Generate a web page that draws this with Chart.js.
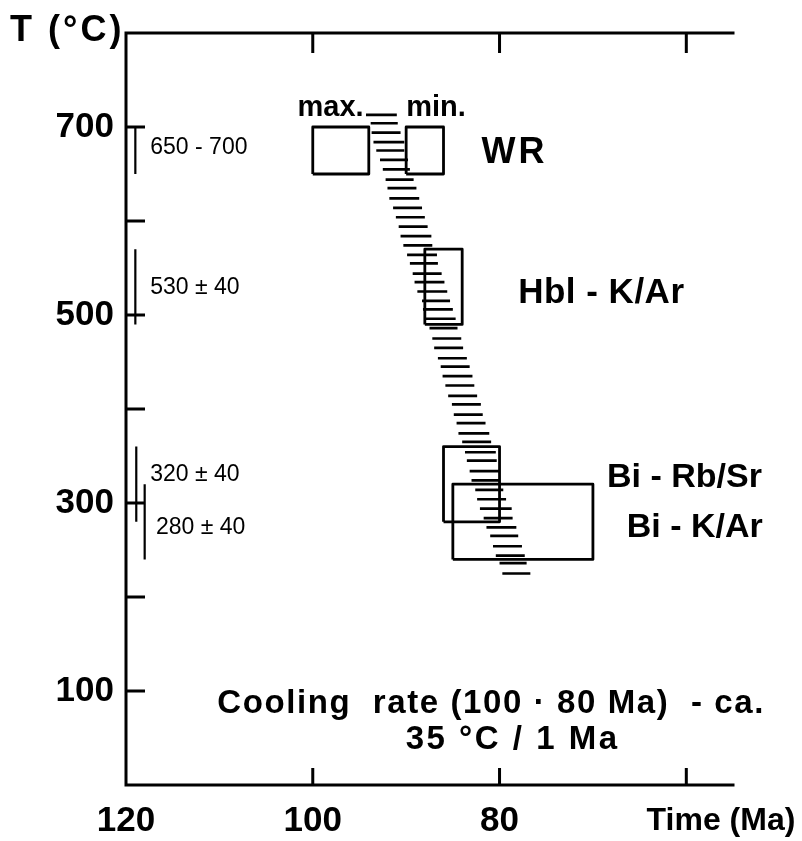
<!DOCTYPE html>
<html>
<head>
<meta charset="utf-8">
<script src="https://cdn.jsdelivr.net/npm/chart.js@4.4.0/dist/chart.umd.min.js"></script>
<style>
  html, body { margin: 0; padding: 0; background: #fff; }
  #chart { display: block; }
</style>
</head>
<body>
<canvas id="chart" width="802" height="841"></canvas>
<script>
// --- 1. Values ---
const timeTicks = [120, 100, 80, 60];
const timeTickLabels = ['120', '100', '80', ''];
const tempTicks = [100, 200, 300, 400, 500, 600, 700];
const tempTickLabels = ['100', '', '300', '', '500', '', '700'];

// age boxes (Ma, °C)
const boxNames = ['WR max.', 'WR min.', 'Hbl - K/Ar', 'Bi - Rb/Sr', 'Bi - K/Ar'];
const boxOld = [100, 90, 88, 86, 85];
const boxYoung = [94, 86, 84, 80, 70];
const boxLow = [650, 650, 490, 280, 240];
const boxHigh = [700, 700, 570, 360, 320];

// closure temperature ranges drawn along the T axis
const rangeLabels = ['650 - 700', '530 ± 40', '320 ± 40', '280 ± 40'];
const rangeTime = [119.0, 119.0, 118.9, 118.0];
const rangeLow = [650, 490, 280, 240];
const rangeHigh = [700, 570, 360, 320];

// hatched cooling path: one short line per row
const hatchTemp = [713, 704, 694, 684, 675, 665, 655, 644, 635, 624,
                   614, 604, 594, 584, 574, 564, 555, 544, 535, 525,
                   515, 506, 496, 486, 475, 465, 454, 445, 435, 425,
                   414, 405, 394, 385, 374, 365, 354, 345, 334, 324,
                   314, 304, 294, 284, 274, 265, 254, 244, 236, 225];
const hatchOld = [94.3, 93.8, 93.7, 93.5, 93.2, 92.8, 92.5, 92.2, 92.0, 91.8,
                  91.4, 91.1, 90.8, 90.6, 90.3, 89.9, 89.6, 89.3, 89.1, 88.8,
                  88.3, 88.2, 87.9, 87.5, 87.2, 87.0, 86.6, 86.3, 86.1, 85.8,
                  85.5, 85.1, 84.9, 84.6, 84.4, 84.0, 83.7, 83.5, 83.2, 83.0,
                  82.6, 82.4, 82.1, 81.7, 81.4, 81.0, 80.7, 80.4, 80.0, 79.7];
const hatchYoung = [91.0, 90.9, 90.6, 90.2, 90.2, 89.8, 89.6, 89.2, 88.9, 88.6,
                    88.3, 88.0, 87.7, 87.3, 87.2, 86.7, 86.6, 86.2, 85.9, 85.6,
                    85.3, 85.0, 84.7, 84.5, 84.1, 83.9, 83.5, 83.2, 82.9, 82.7,
                    82.4, 82.0, 81.8, 81.5, 81.1, 80.9, 80.4, 80.3, 80.0, 80.0,
                    79.6, 79.3, 78.7, 78.6, 78.2, 78.0, 77.6, 77.3, 77.1, 76.7];

// --- 2. Build datasets ---
const INK = '#000';

const hatchPoints = [];
hatchTemp.forEach((t, i) => {
    hatchPoints.push({ x: hatchOld[i], y: t }, { x: hatchYoung[i], y: t }, { x: hatchYoung[i], y: null });
});

const rangePoints = [];
rangeTime.forEach((m, i) => {
    rangePoints.push({ x: m, y: rangeLow[i] }, { x: m, y: rangeHigh[i] }, { x: m, y: null });
});

const boxSets = boxNames.map((name, i) => ({
    label: name,
    data: [
        { x: boxOld[i], y: boxLow[i] }, { x: boxOld[i], y: boxHigh[i] },
        { x: boxYoung[i], y: boxHigh[i] }, { x: boxYoung[i], y: boxLow[i] },
        { x: boxOld[i], y: boxLow[i] }
    ],
    showLine: true, borderColor: INK, borderWidth: 2.8, pointRadius: 0, fill: false,
    borderJoinStyle: 'round'
}));

// --- 3. Frame, inward ticks and lettering ---
const notes = [
    { text: 'max.', x: 98.1, y: 720, font: 'bold 29px "Liberation Sans"', align: 'center' },
    { text: 'min.', x: 86.8, y: 720, font: 'bold 29px "Liberation Sans"', align: 'center' },
    { text: 'WR', x: 78.4, y: 672, font: 'bold 36px "Liberation Sans"', align: 'center', spacing: 3 },
    { text: 'Hbl - K/Ar', x: 69.1, y: 523, font: 'bold 35px "Liberation Sans"', align: 'center', spacing: 0.5 },
    { text: 'Bi - Rb/Sr', x: 60.2, y: 327, font: 'bold 34px "Liberation Sans"', align: 'center' },
    { text: 'Bi - K/Ar', x: 59.1, y: 274, font: 'bold 34px "Liberation Sans"', align: 'center' },
    { text: 'Cooling  rate (100 · 80 Ma)  - ca.', x: 80.9, y: 86, font: 'bold 33px "Liberation Sans"', align: 'center', spacing: 1.6 },
    { text: '35 °C / 1 Ma', x: 78.6, y: 48, font: 'bold 33px "Liberation Sans"', align: 'center', spacing: 2.5 },
    { text: rangeLabels[0], x: 117.4, y: 678, font: '23px "Liberation Sans"', align: 'left' },
    { text: rangeLabels[1], x: 117.4, y: 529, font: '23px "Liberation Sans"', align: 'left' },
    { text: rangeLabels[2], x: 117.4, y: 330, font: '23px "Liberation Sans"', align: 'left' },
    { text: rangeLabels[3], x: 116.8, y: 274, font: '23px "Liberation Sans"', align: 'left' }
];

const figurePlugin = {
    id: 'figure',
    afterDraw(chart) {
        const { ctx, chartArea: a, scales: { x, y } } = chart;
        ctx.save();
        ctx.strokeStyle = INK;
        ctx.fillStyle = INK;

        // open frame: top, left, bottom (no right edge)
        ctx.lineWidth = 3;
        ctx.lineCap = 'square';
        ctx.beginPath();
        ctx.moveTo(a.right, a.top);
        ctx.lineTo(a.left, a.top);
        ctx.lineTo(a.left, a.bottom);
        ctx.lineTo(a.right, a.bottom);
        ctx.stroke();

        // ticks point inwards
        ctx.lineCap = 'butt';
        ctx.beginPath();
        tempTicks.forEach(v => {
            const py = y.getPixelForValue(v);
            ctx.moveTo(a.left, py);
            ctx.lineTo(a.left + 19, py);
        });
        timeTicks.filter(v => v < x.max).forEach(v => {
            const px = x.getPixelForValue(v);
            ctx.moveTo(px, a.top);
            ctx.lineTo(px, a.top + 20);
            ctx.moveTo(px, a.bottom);
            ctx.lineTo(px, a.bottom - 17);
        });
        ctx.stroke();

        // axis titles
        ctx.textBaseline = 'middle';
        ctx.font = 'bold 36px "Liberation Sans"';
        ctx.textAlign = 'left';
        ctx.letterSpacing = '3px';
        ctx.fillText('T (°C)', 10, 31);
        ctx.font = 'bold 32px "Liberation Sans"';
        ctx.textAlign = 'center';
        ctx.letterSpacing = '0px';
        ctx.fillText('Time (Ma)', 721, 821);

        // labels placed in data units
        notes.forEach(n => {
            ctx.font = n.font;
            ctx.textAlign = n.align;
            ctx.letterSpacing = (n.spacing || 0) + 'px';
            ctx.fillText(n.text, x.getPixelForValue(n.x), y.getPixelForValue(n.y));
        });
        ctx.restore();
    }
};

// --- 4. Chart ---
new Chart(document.getElementById('chart'), {
    type: 'scatter',
    data: {
        datasets: [
            { label: 'cooling path', data: hatchPoints, showLine: true, spanGaps: false,
              borderColor: INK, borderWidth: 2.7, pointRadius: 0, borderCapStyle: 'butt' },
            { label: 'T ranges', data: rangePoints, showLine: true, spanGaps: false,
              borderColor: INK, borderWidth: 2.2, pointRadius: 0, borderCapStyle: 'butt' },
            ...boxSets
        ]
    },
    options: {
        responsive: false,
        animation: false,
        devicePixelRatio: 1,
        layout: { padding: { top: 25, right: 69, left: 0, bottom: 0 } },
        plugins: { legend: { display: false }, tooltip: { enabled: false } },
        scales: {
            x: {
                type: 'linear', reverse: true, min: 55, max: 120,
                afterBuildTicks: s => { s.ticks = timeTicks.map(value => ({ value })); },
                afterFit: s => { s.height = 56; },
                grid: { display: false, drawTicks: false },
                border: { display: false },
                ticks: {
                    color: INK, padding: 15, maxRotation: 0, autoSkip: false,
                    font: { family: 'Liberation Sans', weight: 'bold', size: 35 },
                    callback: v => timeTickLabels[timeTicks.indexOf(v)] ?? ''
                }
            },
            y: {
                type: 'linear', min: 0, max: 800,
                afterBuildTicks: s => { s.ticks = tempTicks.map(value => ({ value })); },
                afterFit: s => { s.width = 126; },
                grid: { display: false, drawTicks: false },
                border: { display: false },
                ticks: {
                    color: INK, padding: 12, autoSkip: false,
                    font: { family: 'Liberation Sans', weight: 'bold', size: 35 },
                    callback: v => tempTickLabels[tempTicks.indexOf(v)] ?? ''
                }
            }
        }
    },
    plugins: [figurePlugin]
});
</script>
</body>
</html>
